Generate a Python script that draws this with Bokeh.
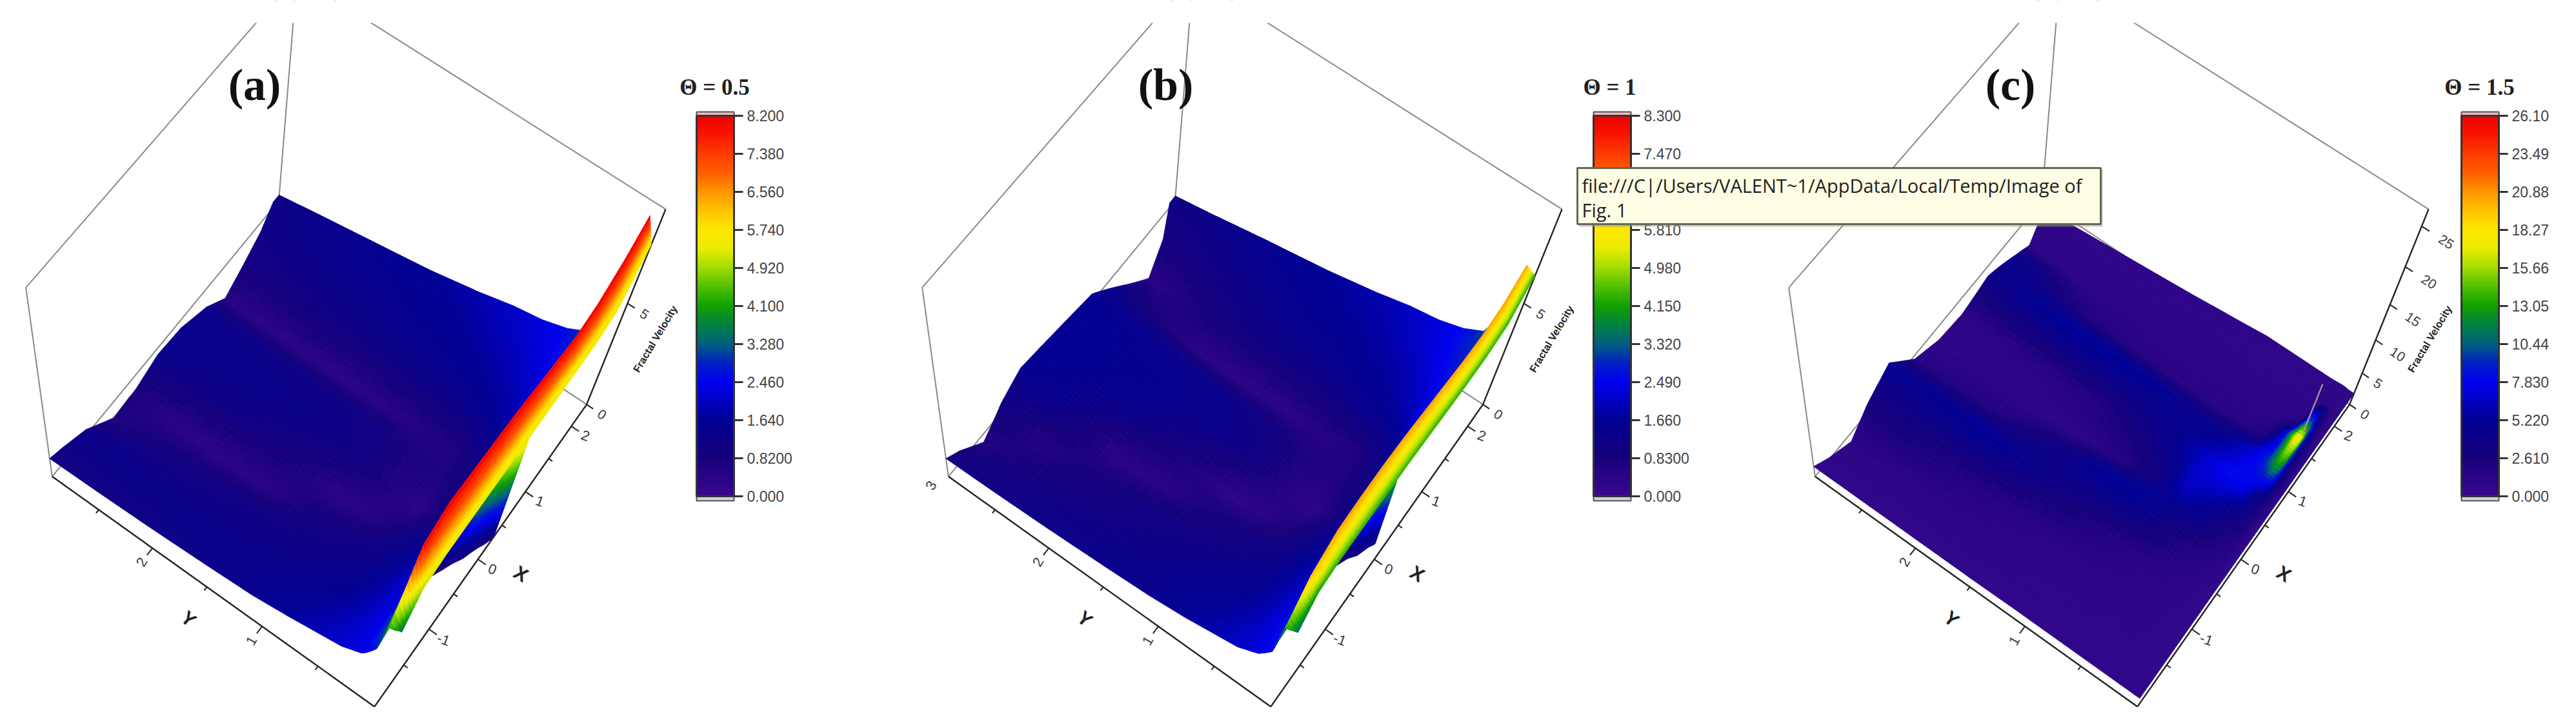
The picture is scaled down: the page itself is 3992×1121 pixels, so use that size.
import numpy as np
from bokeh.plotting import figure
from bokeh.models import Range1d, ColumnDataSource, LinearColorMapper, ColorBar, FixedTicker
from bokeh.core.properties import value
from bokeh.transform import transform
from bokeh.embed import file_html
from bokeh.resources import INLINE

# ---------- data ----------
x_stations = [-2.07, -1.9, -1.6, -1.2, -0.8, -0.4, 0.0, 0.4, 0.8, 1.2, 1.6, 2.0, 2.34]
y_stations = [2.94, 2.5, 2, 1.5, 1.1, 0.8, 0.55, 0.35, 0.2, 0.12, 0.08, 0.05, 0.025, 0]

velocity_a = [
    [1.0, 1.15, 1.25, 0.5, 0.95, 1.3, 1.4, 1.3, 0.5, 0.95, 1.1, 1.15, 1.1],
    [1.05, 1.2, 1.3, 0.85, 0.45, 1.2, 1.35, 1.25, 0.4, 1.0, 1.2, 1.3, 1.3],
    [1.15, 1.25, 1.25, 1.0, 0.35, 1.15, 1.3, 1.2, 0.4, 1.1, 1.3, 1.45, 1.5],
    [1.3, 1.3, 1.25, 1.1, 0.45, 0.85, 1.25, 1.15, 0.4, 1.15, 1.4, 1.55, 1.7],
    [1.45, 1.4, 1.3, 1.15, 0.95, 0.35, 1.1, 1.05, 0.45, 1.25, 1.5, 1.7, 1.9],
    [1.7, 1.6, 1.45, 1.25, 1.05, 0.5, 0.6, 0.75, 0.6, 1.35, 1.65, 1.9, 2.1],
    [1.95, 1.9, 1.7, 1.45, 1.2, 0.9, 0.4, 0.7, 0.7, 1.5, 1.85, 2.1, 2.3],
    [2.15, 2.15, 2.0, 1.85, 1.65, 1.35, 1.0, 1.05, 1.2, 1.8, 2.1, 2.4, 2.6],
    [2.3, 2.4, 2.4, 2.3, 2.2, 2.1, 2.0, 2.0, 2.2, 2.4, 2.6, 2.8, 3.0],
    [2.4, 3.0, 3.4, 3.4, 3.4, 3.4, 3.4, 3.5, 3.6, 3.7, 3.9, 4.2, 4.8],
    [2.9, 4.6, 8.1, 8.15, 8.15, 8.15, 8.15, 8.15, 8.15, 8.15, 8.15, 8.15, 8.15],
    [2.9, 4.3, 7.0, 7.2, 7.2, 7.2, 7.2, 7.2, 7.2, 7.2, 7.2, 7.2, 7.2],
    [2.8, 3.9, 6.0, 6.2, 6.2, 6.2, 6.2, 6.2, 6.2, 6.2, 6.2, 6.2, 6.2],
    [2.6, 3.3, 5.0, 5.3, 5.3, 5.3, 5.3, 5.3, 5.3, 5.3, 5.3, 5.3, 5.3],
]
wall_height_a = [3.4, 4.2, 7.2, 7.7, 7.6, 7.5, 7.4, 7.2, 7.0, 6.8, 7.0, 7.6, 8.4]
front_height_a = [3.3, 3.8, 5.2, 5.4, 5.4, 5.4, 5.4, 5.4, 5.4, 5.4, 5.4, 5.7, 7.5]

velocity_b = [
    [1.0, 0.95, 0.5, 1.25, 1.5, 1.6, 1.6, 1.6, 1.45, 0.5, 0.95, 1.1, 1.1],
    [1.05, 1.1, 0.85, 0.55, 1.45, 1.55, 1.55, 1.5, 0.9, 0.45, 1.0, 1.2, 1.3],
    [1.15, 1.2, 1.05, 0.85, 0.4, 1.35, 1.5, 1.35, 0.4, 1.0, 1.2, 1.45, 1.5],
    [1.3, 1.3, 1.15, 1.05, 0.45, 0.8, 1.4, 1.2, 0.35, 1.15, 1.45, 1.6, 1.7],
    [1.45, 1.4, 1.3, 1.1, 0.9, 0.3, 1.1, 1.05, 0.4, 1.25, 1.5, 1.75, 1.9],
    [1.65, 1.6, 1.45, 1.2, 1.0, 0.45, 0.55, 0.7, 0.55, 1.4, 1.7, 1.9, 2.1],
    [1.9, 1.85, 1.65, 1.45, 1.15, 0.85, 0.35, 0.65, 0.65, 1.55, 1.85, 2.15, 2.3],
    [2.1, 2.1, 1.95, 1.8, 1.6, 1.3, 0.95, 1.0, 1.15, 1.85, 2.2, 2.5, 2.6],
    [2.3, 2.35, 2.35, 2.2, 2.05, 1.9, 1.8, 1.9, 2.1, 2.45, 2.7, 2.9, 3.0],
    [2.4, 2.7, 2.9, 3.0, 3.0, 3.0, 3.0, 3.0, 3.2, 3.3, 3.5, 3.7, 4.0],
    [2.8, 4.6, 6.3, 6.6, 6.6, 6.6, 6.6, 6.6, 6.6, 6.6, 6.6, 6.6, 6.6],
    [2.8, 4.3, 5.7, 5.8, 5.8, 5.8, 5.8, 5.8, 5.8, 5.8, 5.8, 5.8, 5.8],
    [2.7, 3.9, 5.0, 5.2, 5.2, 5.2, 5.2, 5.2, 5.2, 5.2, 5.2, 5.2, 5.2],
    [2.5, 3.3, 4.1, 4.3, 4.3, 4.3, 4.3, 4.3, 4.3, 4.3, 4.3, 4.3, 4.3],
]
wall_height_b = [3.2, 4.2, 5.6, 6.3, 6.4, 6.4, 6.3, 6.1, 5.9, 5.7, 5.6, 5.8, 6.4]
front_height_b = [3.2, 3.8, 5.0, 5.2, 5.2, 5.2, 5.2, 5.1, 5.0, 4.9, 4.9, 5.1, 6.2]

velocity_c = [
    [0.9, 1.0, 1.2, 2.6, 4.8, 1.6, 1.0, 1.2, 3.0, 5.0, 1.3, 1.0, 1.0],
    [0.9, 1.0, 1.1, 3.0, 4.8, 1.8, 1.0, 1.2, 4.6, 3.8, 1.2, 1.0, 1.0],
    [0.9, 1.0, 1.1, 2.0, 5.4, 2.0, 1.0, 1.4, 5.6, 2.0, 1.1, 1.0, 1.0],
    [0.9, 1.0, 1.1, 1.4, 4.2, 3.6, 1.1, 2.0, 5.6, 1.6, 1.1, 1.0, 1.0],
    [1.0, 1.0, 1.0, 1.2, 2.6, 5.4, 1.6, 3.4, 5.0, 1.5, 1.1, 1.0, 1.0],
    [1.0, 1.0, 1.0, 1.2, 1.8, 5.4, 3.2, 5.0, 4.2, 1.5, 1.1, 1.0, 1.0],
    [1.0, 1.0, 1.0, 1.1, 1.5, 3.6, 6.8, 7.0, 4.5, 1.6, 1.1, 1.0, 1.0],
    [1.0, 1.0, 1.0, 1.1, 1.3, 2.0, 5.6, 8.4, 6.4, 2.0, 1.2, 1.0, 1.0],
    [1.0, 1.0, 1.0, 1.1, 1.2, 1.7, 3.0, 7.8, 9.0, 7.0, 1.6, 1.1, 1.0],
    [1.0, 1.0, 1.0, 1.1, 1.1, 1.5, 2.4, 5.5, 13.0, 18.0, 6.0, 1.4, 1.1],
    [1.0, 1.0, 1.0, 1.0, 1.1, 1.4, 2.0, 4.0, 12.0, 17.5, 5.0, 1.4, 1.1],
    [1.0, 1.0, 1.0, 1.0, 1.0, 1.3, 1.6, 2.4, 3.6, 5.0, 2.0, 1.1, 1.0],
    [1.0, 1.0, 1.0, 1.0, 1.0, 1.1, 1.3, 1.5, 1.7, 1.7, 1.3, 1.0, 1.0],
    [1.0, 1.0, 1.0, 1.0, 1.0, 1.0, 1.0, 1.0, 1.0, 1.0, 1.0, 1.0, 1.0],
]
# edges of the plotted domain (the silhouette is not straight)
y_edge_a = [2.94, 2.9, 2.84, 2.8, 2.79, 2.78, 2.76, 2.72, 2.73, 2.74, 2.78, 2.85, 2.85]
y_edge_b = [2.94, 2.9, 2.84, 2.87, 2.89, 2.86, 2.84, 2.82, 2.71, 2.66, 2.72, 2.85, 2.85]
y_edge_c = [2.94, 2.89, 2.83, 2.87, 2.87, 2.84, 2.81, 2.79, 2.74, 2.66, 2.72, 2.8, 2.8]
x_end = [2.1, 2.15, 2.2, 2.25, 2.3, 2.34, 2.34, 2.34, 2.34, 2.34, 2.34, 2.34, 2.34, 2.34]
x_start = [-2.07, -2.07, -2.07, -2.07, -2.07, -2.07, -2.07, -2.07, -2.03, -1.97, -1.93, -1.91, -1.89, -1.87]
# part of the floor seen below the wall: X along the sheet, lower height of the sheet
sheet_x_a = [-1.49, -1.2, -0.9, -0.59, -0.38, -0.17, 0.05, 0.27, 0.33]
sheet_low_a = [5.4, 4.5, 3.6, 2.56, 2.0, 1.4, 0.7, 0.1, 0.1]
sheet_x_b = [-1.3, -1.0, -0.7, -0.4, -0.22, -0.18]
sheet_low_b = [5.2, 4.3, 3.2, 2.4, 1.8, 1.7]

bar_ticks_a = [0, 0.82, 1.64, 2.46, 3.28, 4.1, 4.92, 5.74, 6.56, 7.38, 8.2]
bar_labels_a = ["0.000", "0.8200", "1.640", "2.460", "3.280", "4.100", "4.920", "5.740", "6.560", "7.380", "8.200"]
bar_ticks_b = [0, 0.83, 1.66, 2.49, 3.32, 4.15, 4.98, 5.81, 6.64, 7.47, 8.3]
bar_labels_b = ["0.000", "0.8300", "1.660", "2.490", "3.320", "4.150", "4.980", "5.810", "6.640", "7.470", "8.300"]
bar_ticks_c = [0, 2.61, 5.22, 7.83, 10.44, 13.05, 15.66, 18.27, 20.88, 23.49, 26.1]
bar_labels_c = ["0.000", "2.610", "5.220", "7.830", "10.44", "13.05", "15.66", "18.27", "20.88", "23.49", "26.10"]
x_ticks = [-1, 0, 1, 2]
x_minor = [-1.5, -0.5, 0.5, 1.5]
y_minor = [0.5, 1.5, 2.5]
z_ticks_ab = [0, 5]
z_ticks_c = [0, 5, 10, 15, 20, 25]

palette_stops = [(0, "#38088c"), (.05, "#2a0486"), (.1, "#16007c"), (.2, "#000094"), (.3, "#0000f0"), (.35, "#0020c0"),
                 (.4, "#006080"), (.45, "#008040"), (.5, "#10a000"), (.55, "#50c000"), (.6, "#a0dc00"), (.65, "#e8ec00"),
                 (.7, "#ffe800"), (.74, "#ffcc00"), (.8, "#ff9600"), (.85, "#ff6000"), (.9, "#ff3c00"), (.96, "#f81000"), (1, "#f00000")]

def make_palette(n=256):
    pos = [s[0] for s in palette_stops]
    rgb = np.array([[int(s[1][i:i + 2], 16) for i in (1, 3, 5)] for s in palette_stops], float)
    t = np.linspace(0, 1, n)
    return ["#%02x%02x%02x" % tuple(int(round(np.interp(u, pos, rgb[:, k]))) for k in range(3)) for u in t]
PALETTE = make_palette()

# ---------- camera fitted to the drawn box (panel a pixels) ----------
cube = [(0, 0, 0), (0, 1, 0), (1, 0, 0), (1, 1, 0), (0, 1, 1), (1, 0, 1), (1, 1, 1),
        (1, 0, 5 / 27), (1, 0, 10 / 27), (1, 0, 15 / 27), (1, 0, 20 / 27), (1, 0, 25 / 27)]
screen = [(590, 1097), (90, 756), (910, 643), (444, 300), (43, 448), (1041, 324), (465, -13),
          (933, 593), (956, 538), (980, 482), (1005, 418), (1033, 352)]
rows = []
for (u, v, w), (sx, sy) in zip(cube, screen):
    rows.append([u, v, w, 1, 0, 0, 0, 0, -sx * u, -sx * v, -sx * w, -sx])
    rows.append([0, 0, 0, 0, u, v, w, 1, -sy * u, -sy * v, -sy * w, -sy])
CAM = np.linalg.svd(np.array(rows, float))[2][-1].reshape(3, 4)
XMIN, XMAX, YMAX = -2.07, 2.34, 2.94

def project(X, Y, Z, zmax, dx):
    X, Y, Z = np.broadcast_arrays(np.asarray(X, float), np.asarray(Y, float), np.asarray(Z, float))
    h = np.stack([(X - XMIN) / (XMAX - XMIN), Y / YMAX, Z / zmax, np.ones_like(X)])
    q = np.tensordot(CAM, h, axes=(1, 0))
    return q[0] / q[2] + dx, q[1] / q[2]

def bilinear(table, xs, ys, Xq, Yq):
    ix = np.clip(np.searchsorted(xs, Xq) - 1, 0, len(xs) - 2)
    iy = np.clip(np.searchsorted(ys, Yq) - 1, 0, len(ys) - 2)
    tx = np.clip((Xq - xs[ix]) / (xs[ix + 1] - xs[ix]), 0, 1)
    ty = np.clip((Yq - ys[iy]) / (ys[iy + 1] - ys[iy]), 0, 1)
    return ((1 - ty) * ((1 - tx) * table[iy, ix] + tx * table[iy, ix + 1]) +
            ty * ((1 - tx) * table[iy + 1, ix] + tx * table[iy + 1, ix + 1]))

p = figure(width=3976, height=1105, x_range=Range1d(8, 3984), y_range=Range1d(1113, 8),
           output_backend="svg", toolbar_location=None, min_border=0)
p.axis.visible = False
p.grid.visible = False
p.outline_line_color = None

GRAY = "#8a8a8a"

def box(dx, zmax):
    corners = {"F": (XMIN, 0, 0), "L": (XMIN, YMAX, 0), "R": (XMAX, 0, 0), "B": (XMAX, YMAX, 0),
               "Lt": (XMIN, YMAX, zmax), "Rt": (XMAX, 0, zmax), "Bt": (XMAX, YMAX, zmax)}
    pts = {k: project(*v, zmax, dx) for k, v in corners.items()}
    for a, b in [("L", "Lt"), ("Lt", "Bt"), ("Rt", "Bt"), ("B", "Bt"), ("L", "B"), ("B", "R")]:
        p.line([pts[a][0], pts[b][0]], [pts[a][1], pts[b][1]], line_color=GRAY, line_width=2)

def draw_cells(px, py, pv, mapper):
    src = ColumnDataSource(dict(xs=px, ys=py, v=pv))
    p.patches("xs", "ys", source=src, fill_color=transform("v", mapper), line_color=transform("v", mapper), line_width=0.8)

def surface(table, edge, wall, front, cap, lift, dx, zmax):
    ys = np.array(y_stations, float)[::-1]
    xs = np.array(x_stations, float)
    T = np.array(table, float)[::-1]
    H = T.copy() + lift
    if wall is not None:
        w, f = np.array(wall, float), np.array(front, float)
        for j, yv in enumerate(ys):
            if yv <= 0.08:
                H[j] = f + (w - f) * yv / 0.08
    H = np.minimum(H, cap)
    Xf = np.concatenate([np.linspace(xs[i], xs[i + 1], 9)[:-1] for i in range(len(xs) - 1)] + [[xs[-1]]])
    sub = [3, 3, 3, 4, 5, 5, 6, 6, 6, 6, 6, 6, 6]
    Tf = np.concatenate([np.linspace(ys[i], ys[i + 1], sub[i] + 1)[:-1] for i in range(len(ys) - 1)] + [[ys[-1]]])
    top = np.interp(Xf, xs, edge)
    Yf = np.array([np.clip(Tf, 0, t) for t in top]).T
    Xg0 = np.tile(Xf, (len(Tf), 1))
    Xg = np.minimum(Xg0, np.interp(Yf, ys, np.array(x_end, float)[::-1]))
    if wall is not None:
        Xg = np.maximum(Xg, np.interp(Yf, ys, np.array(x_start, float)[::-1]))
    Vf = bilinear(T, xs, ys, Xg, Yf)
    Hf = bilinear(H, xs, ys, Xg, Yf)
    sx, sy = project(Xg, Yf, Hf, zmax, dx)
    px, py, pv = [], [], []
    for j in range(len(Tf) - 2, -1, -1):
        for i in range(len(Xf) - 2, -1, -1):
            if Yf[j + 1, i] - Yf[j, i] < 1e-6 and Yf[j + 1, i + 1] - Yf[j, i + 1] < 1e-6:
                continue
            px.append([sx[j, i], sx[j, i + 1], sx[j + 1, i + 1], sx[j + 1, i]])
            py.append([sy[j, i], sy[j, i + 1], sy[j + 1, i + 1], sy[j + 1, i]])
            pv.append(float((Vf[j, i] + Vf[j, i + 1] + Vf[j + 1, i + 1] + Vf[j + 1, i]) / 4))
    return px, py, pv

def sheet(xv, low, top_h, dx, zmax):
    xv, low = np.array(xv, float), np.array(low, float)
    Xf = np.linspace(xv[0], xv[-1], 40)
    lo = np.interp(Xf, xv, low)
    ts = np.linspace(0, 1, 24)
    Z = np.array([lo + (top_h - lo) * t for t in ts])
    Xg = np.tile(Xf, (len(ts), 1))
    V = 0.9 + 0.9 * (Z - lo)
    sx, sy = project(Xg, 0 * Xg, Z, zmax, dx)
    px, py, pv = [], [], []
    for j in range(len(ts) - 1):
        for i in range(len(Xf) - 1):
            px.append([sx[j, i], sx[j, i + 1], sx[j + 1, i + 1], sx[j + 1, i]])
            py.append([sy[j, i], sy[j, i + 1], sy[j + 1, i + 1], sy[j + 1, i]])
            pv.append(float((V[j, i] + V[j + 1, i + 1]) / 2))
    return px, py, pv

def axes(dx, zmax, zt, y_labels, label_dx):
    def seg(a, b, lw=2.4, col="#222222"):
        sa, sb = project(*a, zmax, dx), project(*b, zmax, dx)
        p.line([sa[0], sb[0]], [sa[1], sb[1]], line_color=col, line_width=lw)
    seg((XMIN, YMAX, 0), (XMIN, 0, 0))
    seg((XMIN, 0, 0), (XMAX, 0, 0))
    seg((XMAX, 0, 0), (XMAX, 0, zmax))
    for t in y_minor:
        seg((XMIN, t, 0), (XMIN - 0.05, t, 0), 2)
    for t in [1, 2]:
        seg((XMIN, t, 0), (XMIN - 0.1, t, 0), 2)
    for t in x_minor:
        seg((t, 0, 0), (t, -0.035, 0), 2)
    for t in x_ticks:
        seg((t, 0, 0), (t, -0.07, 0), 2)
    for t in zt:
        seg((XMAX, 0, t), (XMAX, -0.06, t), 2)
    col = "#3a3a3a"
    font = value("Liberation Sans")
    for t in y_labels:
        sx, sy = project(XMIN - 0.2, t, 0, zmax, dx)
        p.text([float(sx)], [float(sy)], text=[str(t)], text_font=font, text_font_size="22px",
               text_align="center", text_baseline="middle", angle=1.05, text_color=col)
    for t in x_ticks:
        sx, sy = project(t, -0.13, 0, zmax, dx)
        p.text([float(sx)], [float(sy)], text=[str(t)], text_font=font, text_font_size="22px",
               text_align="center", text_baseline="middle", angle=-0.35, text_color=col)
    for t in zt:
        off = -0.19 if t >= 10 else -0.14
        sx, sy = project(XMAX, off, t, zmax, dx)
        p.text([float(sx)], [float(sy)], text=[str(t)], text_font=font, text_font_size="21px",
               text_align="center", text_baseline="middle", angle=-0.58, text_color=col)
    p.text([300 + dx], [967], text=["Y"], text_font=font, text_font_size="30px", text_font_style="bold",
           text_align="center", text_baseline="middle", angle=-0.7, text_color="#222222")
    p.text([815 + dx], [897], text=["X"], text_font=font, text_font_size="30px", text_font_style="bold",
           text_align="center", text_baseline="middle", angle=-0.55, text_color="#222222")
    p.text([1023 + dx + label_dx], [533], text=["Fractal Velocity"], text_font=font, text_font_size="16px",
           text_font_style="bold", text_align="center", text_baseline="middle", angle=1.03, text_color="#222222")

def colour_bar(mapper, ticks, labels, x0):
    cb = ColorBar(color_mapper=mapper, ticker=FixedTicker(ticks=ticks),
                  major_label_overrides={t: l for t, l in zip(ticks, labels)},
                  major_label_text_font="Liberation Sans", major_label_text_font_size="23px",
                  major_label_text_color="#444444", major_tick_out=14, major_tick_in=0,
                  major_tick_line_color="#333333", major_tick_line_width=3, minor_tick_line_color=None,
                  label_standoff=6, bar_line_color="#333333", bar_line_width=3,
                  width=58, height=590, padding=0, margin=0, background_fill_alpha=0, border_line_color=None,
                  location=(x0 - 8, 1113 - 777))
    p.add_layout(cb, "center")
    p.quad(left=[x0], right=[x0 + 58], top=[181], bottom=[187], fill_color="#f4b8b8", line_color="#555555", line_width=2)
    p.quad(left=[x0], right=[x0 + 58], top=[777], bottom=[784], fill_color="#d8c8f0", line_color="#555555", line_width=2)

panels = [
    dict(dx=0, zmax=8.9, table=velocity_a, edge=y_edge_a, wall=wall_height_a, front=front_height_a, cap=99, lift=0, high=8.2,
         zt=z_ticks_ab, ylab=[1, 2], ticks=bar_ticks_a, labels=bar_labels_a, bar=1087, sx=sheet_x_a, sl=sheet_low_a, st=5.4, ldx=0),
    dict(dx=1389, zmax=8.9, table=velocity_b, edge=y_edge_b, wall=wall_height_b, front=front_height_b, cap=99, lift=0, high=8.3,
         zt=z_ticks_ab, ylab=[1, 2, 3], ticks=bar_ticks_b, labels=bar_labels_b, bar=2477, sx=sheet_x_b, sl=sheet_low_b, st=5.2, ldx=0),
    dict(dx=2732, zmax=27.0, table=velocity_c, edge=y_edge_c, wall=None, front=None, cap=5.5, lift=0.8, high=26.1,
         zt=z_ticks_c, ylab=[1, 2], ticks=bar_ticks_c, labels=bar_labels_c, bar=3822, sx=None, sl=None, st=0, ldx=18),
]
for c in panels:
    mapper = LinearColorMapper(palette=PALETTE, low=0, high=c["high"])
    box(c["dx"], c["zmax"])
    axes(c["dx"], c["zmax"], c["zt"], c["ylab"], c["ldx"])
    if c["sx"] is not None:
        draw_cells(*sheet(c["sx"], c["sl"], c["st"], c["dx"], c["zmax"]), mapper)
    draw_cells(*surface(c["table"], c["edge"], c["wall"], c["front"], c["cap"], c["lift"], c["dx"], c["zmax"]), mapper)
    colour_bar(mapper, c["ticks"], c["labels"], c["bar"])

# thin end of the spike in panel c
sa = project(1.3, 0.1, 5.5, 27.0, 2732)
sb = project(2.12, 0.22, 3.0, 27.0, 2732)
p.line([float(sa[0]), float(sb[0])], [float(sa[1]), float(sb[1])], line_color="#b08aa0", line_width=2.5)

# blank strip above the box lines
p.quad(left=[8], right=[3984], top=[8], bottom=[43], fill_color="white", line_color=None)

serif = value("Liberation Serif")
for label, x in [("(a)", 402), ("(b)", 1814), ("(c)", 3123)]:
    p.text([x], [139], text=[label], text_font=serif, text_font_size="70px", text_font_style="bold",
           text_align="center", text_baseline="middle", text_color="#111111")
for label, x in [("\u0398 = 0.5", 1115), ("\u0398 = 1", 2502), ("\u0398 = 1.5", 3850)]:
    p.text([x], [143], text=[label], text_font=serif, text_font_size="35px", text_font_style="bold",
           text_align="center", text_baseline="middle", text_color="#222222")

# tooltip
p.quad(left=[2455], right=[3266], top=[270], bottom=[359], fill_color="#9a9a8a", line_color=None, fill_alpha=0.5, level="overlay")
p.quad(left=[2452], right=[3263], top=[268], bottom=[355], fill_color="#fefee4", line_color="#66665a", line_width=3, level="overlay")
p.text([2459], [295], text=["file:///C|/Users/VALENT~1/AppData/Local/Temp/Image of"], text_font=value("Open Sans"),
       text_font_size="29px", text_align="left", text_baseline="middle", text_color="#222222", level="overlay")
p.text([2459], [333], text=["Fig. 1"], text_font=value("Open Sans"), text_font_size="29px", text_align="left",
       text_baseline="middle", text_color="#222222", level="overlay")

open("out.html", "w").write(file_html(p, INLINE))
